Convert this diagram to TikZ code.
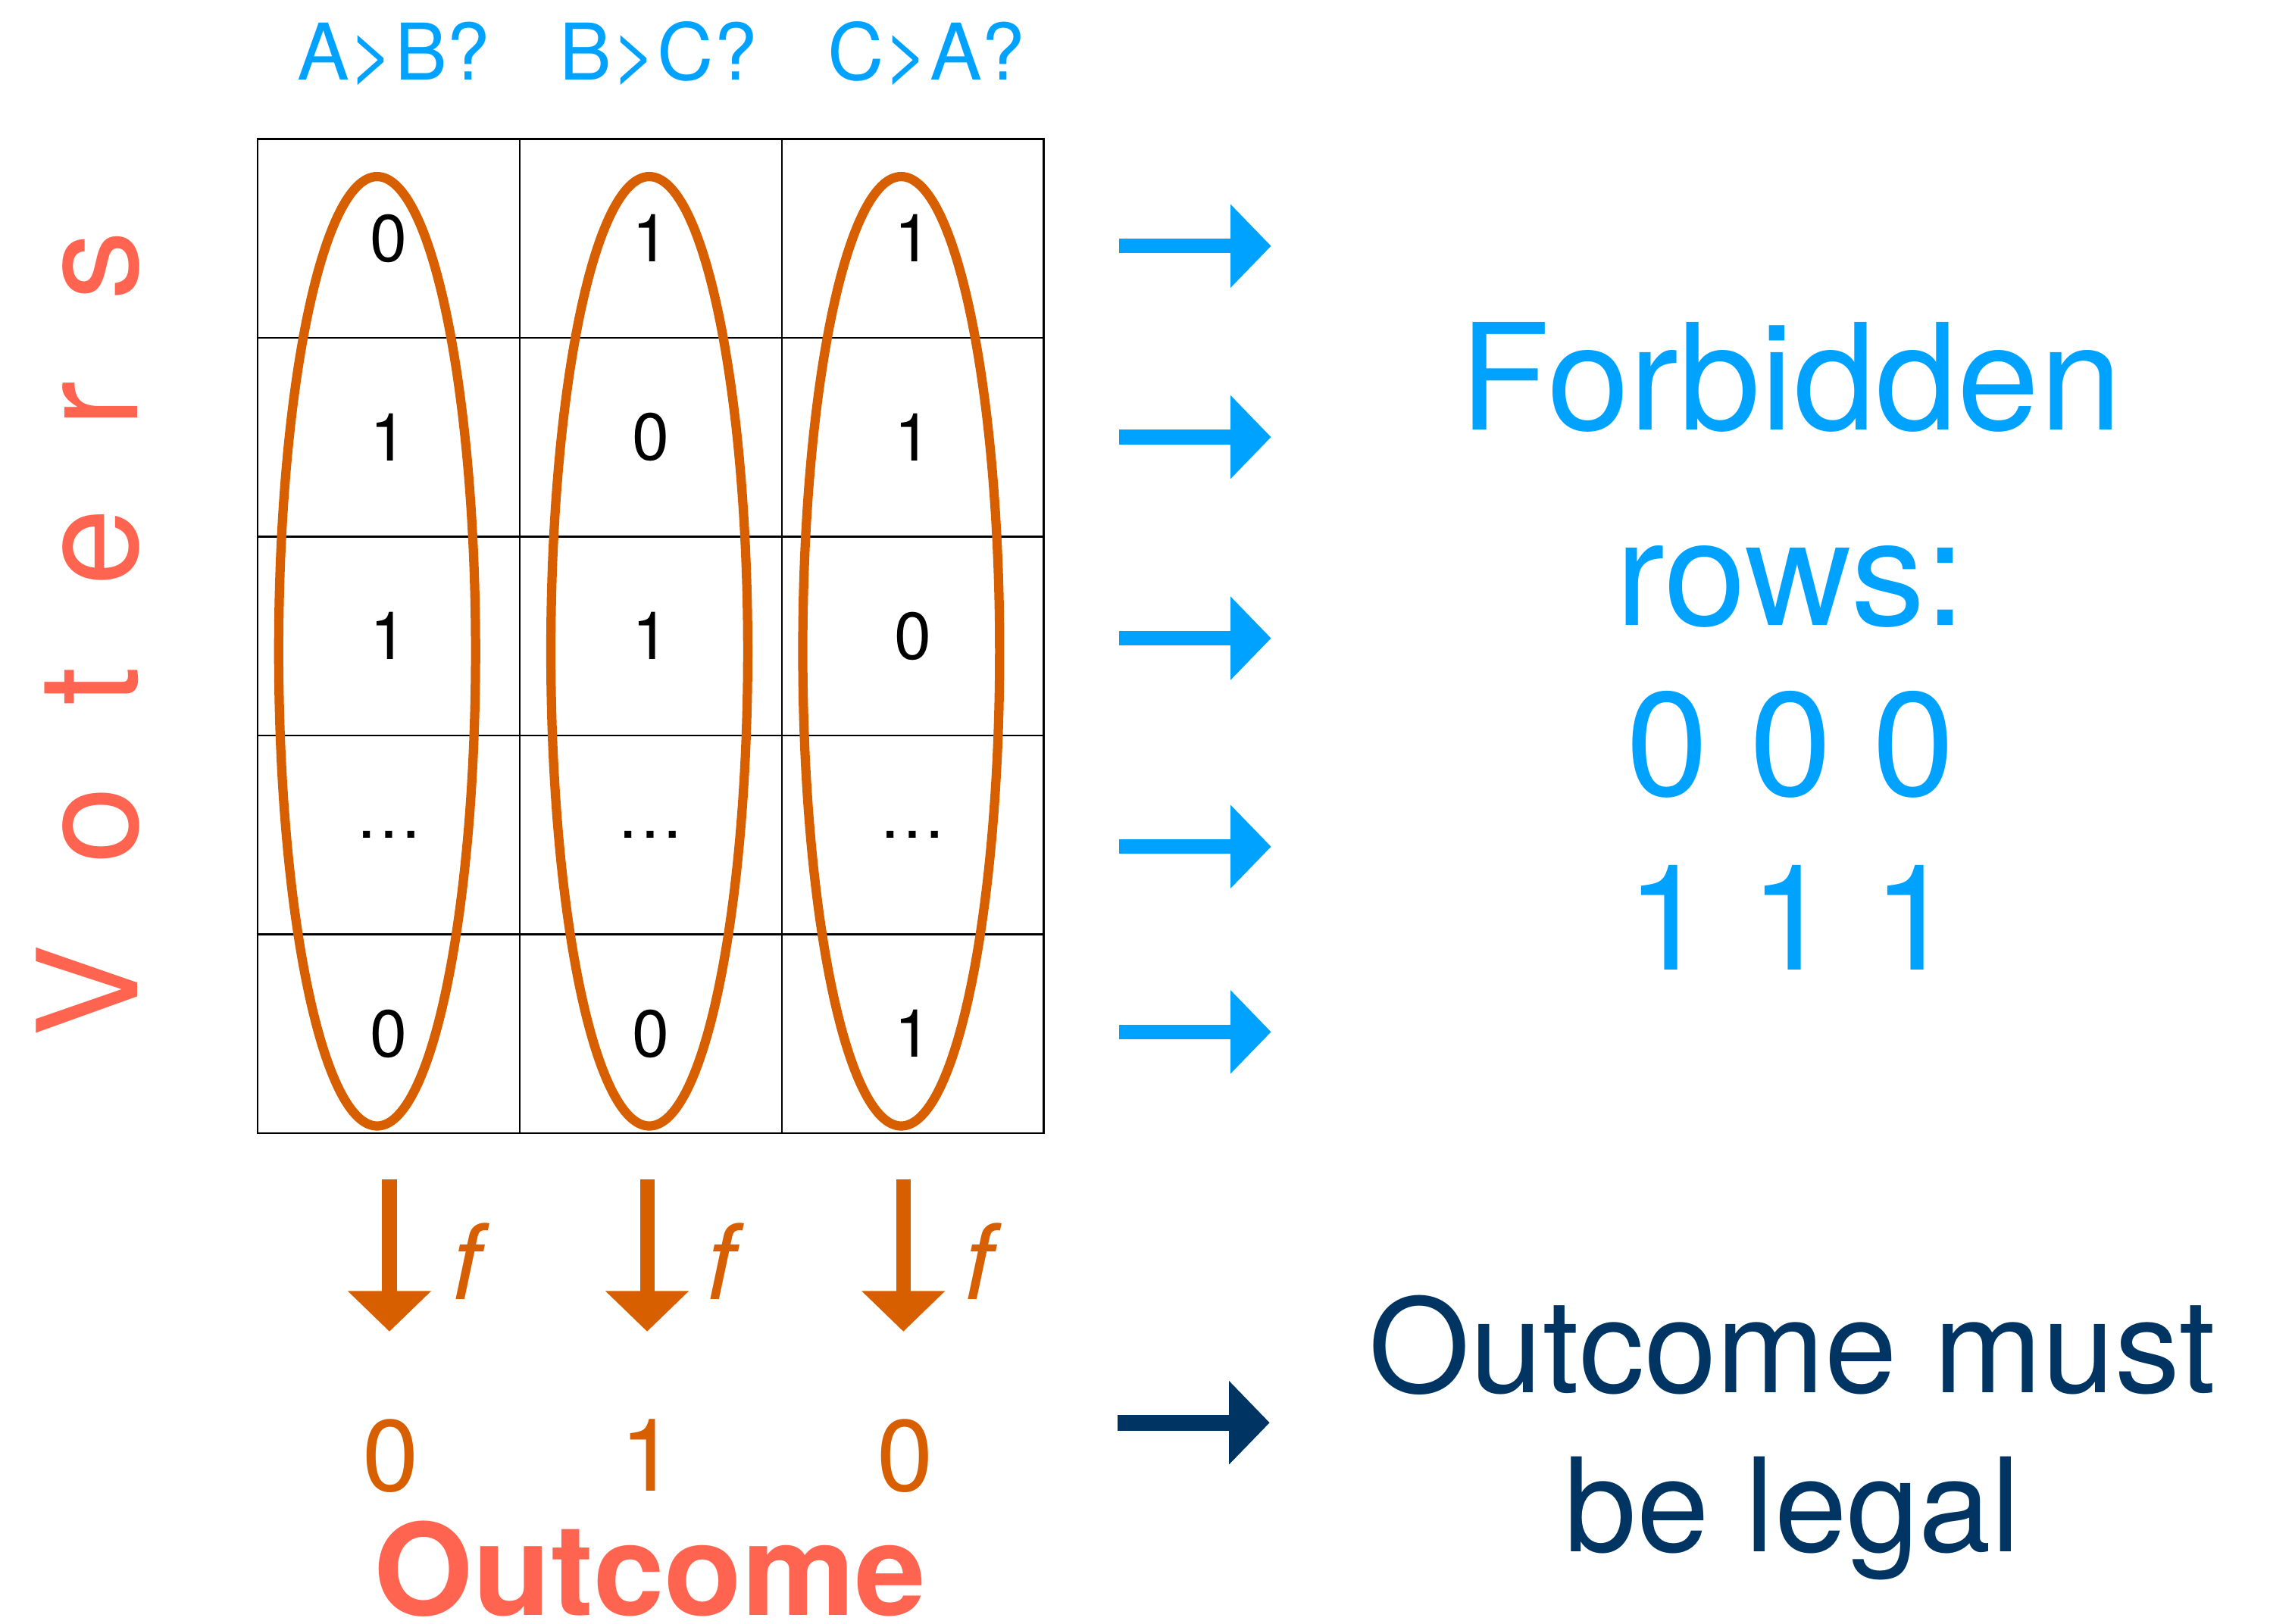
\documentclass[tikz,border=0pt]{standalone}
\usepackage{fontspec}
\setmainfont{TeX Gyre Heros}
\usetikzlibrary{arrows.meta,shapes.geometric}
\definecolor{skyblue}{HTML}{00A2FF}
\definecolor{coral}{HTML}{FF6450}
\definecolor{burnt}{HTML}{D75F00}
\definecolor{navy}{HTML}{003462}
\tikzset{
  hdr/.style={text=skyblue, font=\fontsize{27}{27}\selectfont, anchor=base},
  cell/.style={draw, line width=0.6pt, inner sep=0pt, minimum width=90.5pt, minimum height=68.7pt, font=\fontsize{23}{23}\selectfont},
  oval/.style={draw=burnt, line width=3.2pt, ellipse, inner sep=0pt, minimum width=68pt, minimum height=328pt},
  rowarrow/.style={skyblue, line width=5pt, -{Triangle[width=28pt,length=14pt]}},
  downarrow/.style={burnt, line width=5pt, -{Triangle[width=28pt,length=14pt]}},
  legalarrow/.style={navy, line width=5.5pt, -{Triangle[width=28pt,length=14pt]}},
  flab/.style={text=burnt, font=\fontsize{36}{36}\selectfont\itshape, anchor=base},
  result/.style={text=burnt, font=\fontsize{35}{35}\selectfont, anchor=base},
  bigblue/.style={text=skyblue, font=\fontsize{51}{51}\selectfont, anchor=base},
  legal/.style={text=navy, font=\fontsize{45}{45}\selectfont, anchor=base}
}
\begin{document}
\begin{tikzpicture}[x=0.5pt, y=-0.5pt]
  \useasboundingbox (0,0) rectangle (1568,1122);
  % column questions
  \node [hdr] (qab) at (272,55) {A>B?};
  \node [hdr] (qbc) at (455,55) {B>C?};
  \node [hdr] (qca) at (640,55) {C>A?};
  % voters
  \node [text=coral, font=\fontsize{48}{48}\selectfont, rotate=90, anchor=base] (voters) at (95,438)
    {V\hspace{28pt}o\hspace{28pt}t\hspace{28pt}e\hspace{28pt}r\hspace{28pt}s};
  % table of votes
  \foreach \a/\b/\c [count=\r] in {0/1/1, 1/0/1, 1/1/0, \dots/\dots/\dots, 0/0/1} {
    \pgfmathsetmacro\yy{96+137.4*(\r-0.5)}
    \node [cell] (c\r-1) at (268.5,\yy) {\a};
    \node [cell] (c\r-2) at (449.5,\yy) {\b};
    \node [cell] (c\r-3) at (630.5,\yy) {\c};
  }
  \node [oval] (e1) at (260.5,450) {};
  \node [oval] (e2) at (448.5,450) {};
  \node [oval] (e3) at (622.5,450) {};
  % rows into the constraint
  \foreach \y [count=\i] in {170,302,441,585,713} {
    \coordinate (rs\i) at (773,\y);
    \coordinate (re\i) at (878,\y);
    \draw [rowarrow] (rs\i) -- (re\i);
  }
  \node [bigblue] (forbid) at (1237,297) {Forbidden};
  \node [bigblue] (rows) at (1237,432) {rows:};
  \node [bigblue] (zeros) at (1237,550) {0 0 0};
  \node [bigblue] (ones) at (1237,670) {1 1 1};
  % aggregation
  \foreach \x/\fx/\v [count=\i] in {269/322/0, 447/498/1, 624/676/0} {
    \coordinate (ds\i) at (\x,815);
    \coordinate (de\i) at (\x,920);
    \draw [downarrow] (ds\i) -- (de\i);
    \node [flab] (f\i) at (\fx,898) {f};
    \node [result] (o\i) at (\x+1,1030) {\v};
  }
  \node [text=coral, font=\fontsize{44}{44}\selectfont\bfseries, anchor=base, inner sep=0pt] (outcome) at (449,1116) {Outcome};
  \coordinate (ls) at (772,983);
  \coordinate (le) at (877,983);
  \draw [legalarrow] (ls) -- (le);
  \node [legal] (must) at (1238,962) {Outcome must};
  \node [legal] (belegal) at (1238,1072) {be legal};
\end{tikzpicture}
\end{document}
